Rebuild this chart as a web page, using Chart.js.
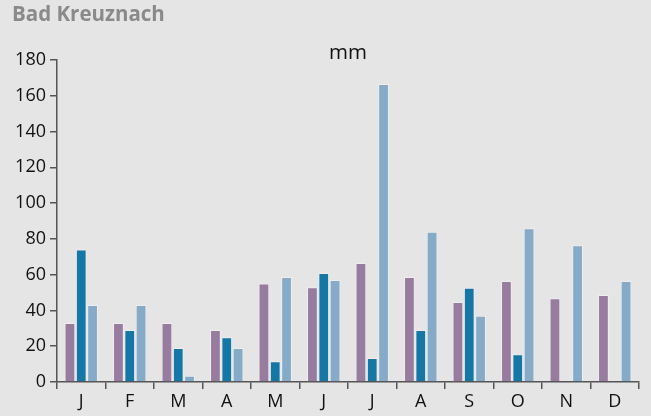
<!DOCTYPE html>
<html>
<head>
<meta charset="utf-8">
<script src="https://cdn.jsdelivr.net/npm/chart.js@4/dist/chart.umd.min.js"></script>
<style>
html,body{margin:0;padding:0;background:#e5e5e5;}
#wrap{width:651px;height:416px;position:relative;}
</style>
</head>
<body>
<div id="wrap"><canvas id="c" width="651" height="416"></canvas></div>
<script>
const months = ['J','F','M','A','M','J','J','A','S','O','N','D'];
const seriesA = [33, 33, 33, 29, 55, 53, 66.5, 58.7, 44.7, 56.5, 46.8, 48.6];
const seriesB = [74, 29, 19, 25, 11.6, 61, 13.4, 29, 52.7, 15.5, null, null];
const seriesC = [43, 43, 3.5, 19, 58.7, 57, 166.6, 84, 37, 86, 76.4, 56.5];
const yTicks = [0, 20, 40, 60, 80, 100, 120, 140, 160, 180];
const titleText = 'Bad Kreuznach';
const unitText = 'mm';

const FONT = '"Open Sans", "Noto Sans", sans-serif';

const textPlugin = {
  id: 'texts',
  afterDraw(chart) {
    const ctx = chart.ctx;
    ctx.save();
    ctx.fillStyle = '#8a8a8a';
    ctx.font = 'bold 20.5px ' + FONT;
    ctx.textAlign = 'left';
    ctx.textBaseline = 'alphabetic';
    ctx.fillText(titleText, 12, 21);
    ctx.fillStyle = '#111';
    ctx.font = '20.5px ' + FONT;
    ctx.textAlign = 'center';
    const a = chart.chartArea;
    ctx.fillText(unitText, (a.left + a.right) / 2, 59);
    ctx.restore();
  }
};

const common = {
  borderColor: 'rgba(255,255,255,0.35)',
  borderWidth: 1,
  barPercentage: 0.95,
  categoryPercentage: 0.7
};

new Chart(document.getElementById('c'), {
  type: 'bar',
  data: {
    labels: months,
    datasets: [
      Object.assign({data: seriesA, backgroundColor: '#977ca0'}, common),
      Object.assign({data: seriesB, backgroundColor: '#1577a6'}, common),
      Object.assign({data: seriesC, backgroundColor: '#85abc8'}, common)
    ]
  },
  options: {
    responsive: false,
    animation: false,
    events: [],
    layout: { padding: { top: 60, right: 12, left: 0, bottom: 0 } },
    plugins: { legend: { display: false }, tooltip: { enabled: false }, title: { display: false } },
    scales: {
      x: {
        offset: true,
        grid: { offset: true, drawOnChartArea: false, drawTicks: true, tickLength: 7, color: '#555', lineWidth: 1.5 },
        border: { display: true, color: '#555', width: 1.5 },
        ticks: { color: '#111', font: { family: FONT, size: 18 }, padding: 2, maxRotation: 0, autoSkip: false },
        afterFit(s) { s.height = 34; }
      },
      y: {
        min: 0, max: 180,
        afterBuildTicks(s) { s.ticks = yTicks.map(v => ({value: v})); },
        grid: { drawOnChartArea: false, drawTicks: true, tickLength: 7, color: '#555', lineWidth: 1.5 },
        border: { display: true, color: '#555', width: 1.5 },
        ticks: { color: '#111', font: { family: FONT, size: 18 }, padding: 4 },
        afterFit(s) { s.width = 57; }
      }
    }
  },
  plugins: [textPlugin]
});
</script>
</body>
</html>
